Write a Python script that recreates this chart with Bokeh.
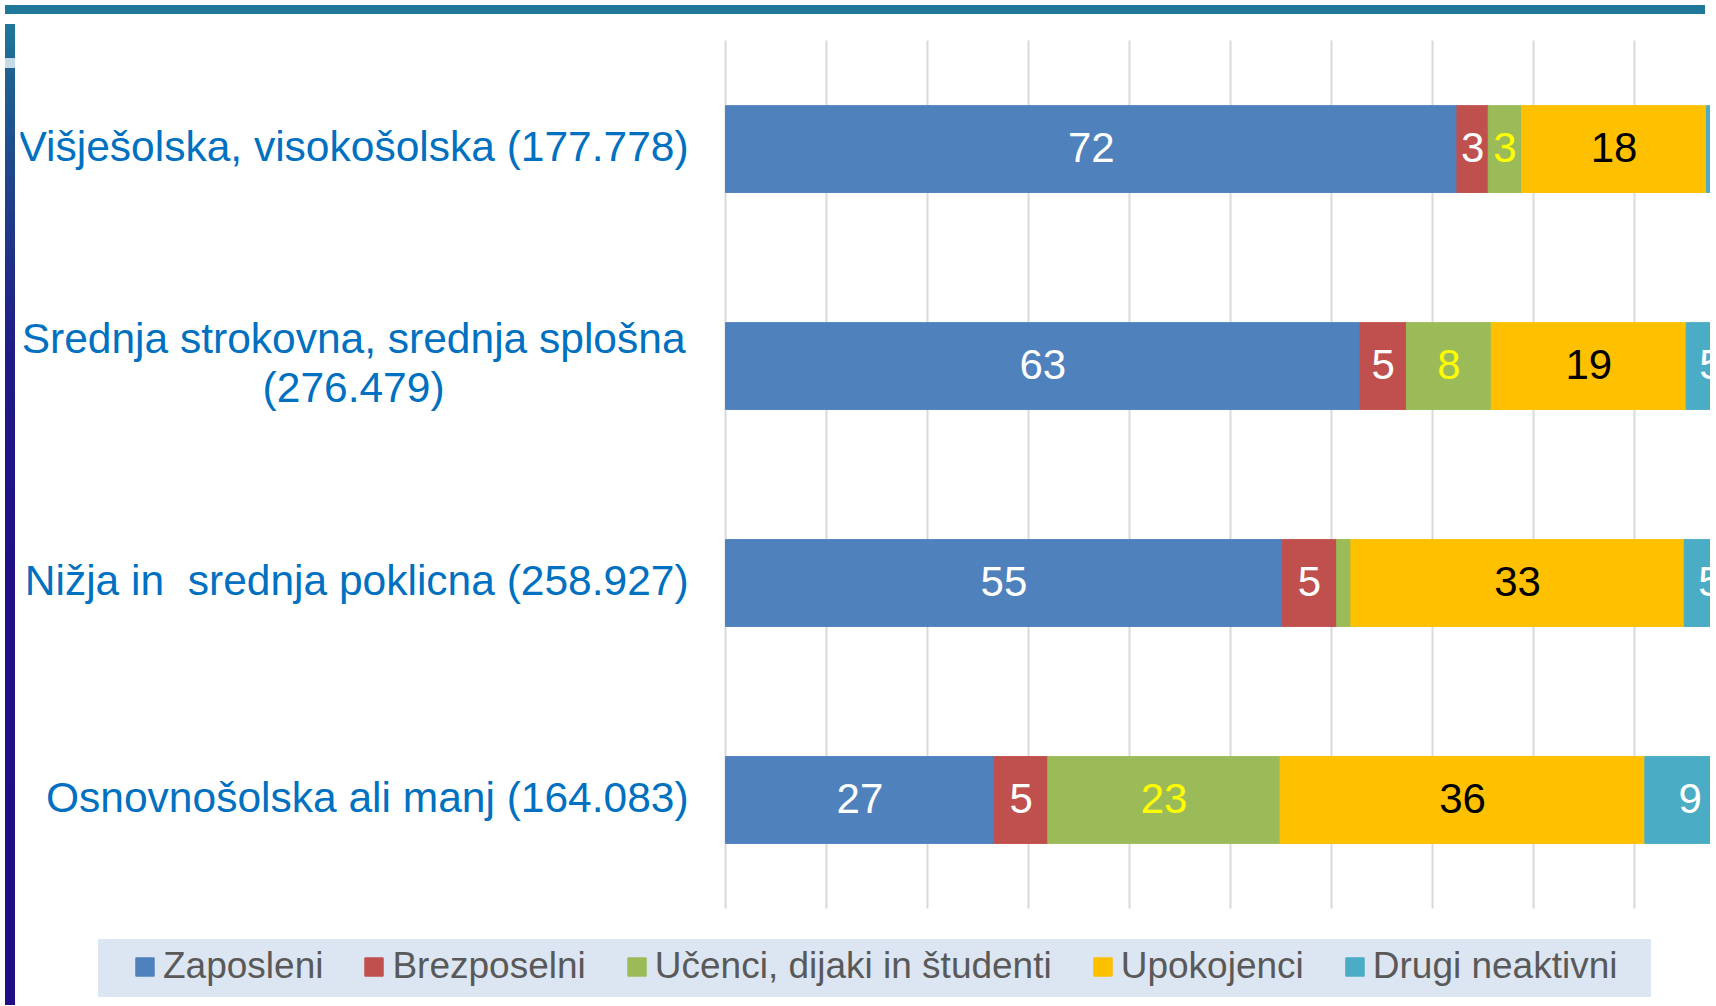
import numpy as np
from bokeh.plotting import figure
from bokeh.models import (ColumnDataSource, Range1d, FixedTicker, Grid,
                          Legend, LegendItem, Div)
from bokeh.layouts import column, row
from bokeh.core.properties import value
from bokeh.embed import file_html
from bokeh.resources import INLINE

# ---------------- data ----------------
categories = [
    "Višješolska, visokošolska (177.778)",
    "Srednja strokovna, srednja splošna\n(276.479)",
    "Nižja in \u00a0srednja poklicna (258.927)",
    "Osnovnošolska ali manj (164.083)",
]
series = ["Zaposleni", "Brezposelni", "Učenci, dijaki in študenti", "Upokojenci", "Drugi neaktivni"]
zaposleni = [72.4, 62.8, 55.1, 26.6]
brezposelni = [3.1, 4.6, 5.4, 5.3]
ucenci = [3.3, 8.4, 1.4, 23.0]
upokojenci = [18.3, 19.3, 33.0, 36.1]
drugi = [2.9, 4.9, 5.1, 9.0]
grid_ticks = list(range(0, 100, 10))

# ---------------- styles ----------------
colors = ["#4F81BD", "#C0504D", "#9BBB59", "#FFC000", "#4BACC6"]
label_colors = ["white", "white", "#FFFF00", "black", "white"]
FONT = "Liberation Sans"

n = len(categories)
ypos = list(range(n - 1, -1, -1))          # first category at the top
keys = ["zap", "brez", "uc", "upo", "drugi"]
values = [zaposleni, brezposelni, ucenci, upokojenci, drugi]
src = ColumnDataSource(dict(y=ypos, cat=categories, **{k: v for k, v in zip(keys, values)}))

p = figure(width=1690, height=981,
           y_range=Range1d(-0.5 - 0.424, n - 0.5 + 0.097),
           x_range=Range1d(-69.8, 97.5),
           x_axis_location=None, y_axis_location=None,
           output_backend="svg", toolbar_location=None,
           min_border_left=0, min_border_right=0, min_border_top=0, min_border_bottom=0)
p.outline_line_color = None
p.background_fill_alpha = 0
p.border_fill_alpha = 0
# legend box drawn as the plot element's background
p.styles = {"background": "linear-gradient(#DCE6F2, #DCE6F2) 78px 920px / 1553px 58px no-repeat, #FFFFFF"}

# remove default grids, add vertical gridlines spanning the category band only
p.center = [r for r in p.center if not isinstance(r, Grid)]
p.add_layout(Grid(dimension=0, ticker=FixedTicker(ticks=grid_ticks),
                  cross_bounds=(-0.5, n - 0.5),
                  grid_line_color="#D9D9D9", grid_line_width=2))

renderers = p.hbar_stack(keys, y="y", height=0.4, color=colors, source=src)

# data labels
arr = np.array(values)
right = np.cumsum(arr, axis=0)
left = right - arr
center = (left + right) / 2
lx, ly, lt, lc = [], [], [], []
for i in range(len(keys)):
    for j in range(n):
        v = arr[i, j]
        if v >= 2:
            lx.append(center[i, j]); ly.append(ypos[j]); lt.append(str(int(round(v)))); lc.append(label_colors[i])
p.text(x="x", y="y", text="t", text_color="c",
       source=ColumnDataSource(dict(x=lx, y=ly, t=lt, c=lc)),
       text_align="center", text_baseline="middle", y_offset=-2,
       text_font=value(FONT), text_font_size=value("42px"))

# category labels
single = [(c, y) for c, y in zip(categories, ypos) if "\n" not in c]
multi = [(c, y) for c, y in zip(categories, ypos) if "\n" in c]
p.text(x=[0] * len(single), y=[y for _, y in single], text=[c for c, _ in single],
       x_offset=-37, y_offset=-3,
       text_align="right", text_baseline="middle", text_color="#0070C0",
       text_font=value(FONT), text_font_size=value("42.5px"))
p.text(x=[0] * len(multi), y=[y for _, y in multi], text=[c for c, _ in multi],
       x_offset=-372, y_offset=-3,
       text_align="center", text_baseline="middle", text_color="#0070C0",
       text_font=value(FONT), text_font_size=value("42.5px"), text_line_height=1.06)

legend = Legend(items=[LegendItem(label=s, renderers=[r]) for s, r in zip(series, renderers)],
                orientation="horizontal", location=(113, 13), padding=0, margin=0,
                spacing=39, label_standoff=7, glyph_width=23, glyph_height=23,
                label_text_font=FONT, label_text_font_size="37px", label_text_color="#595959",
                background_fill_alpha=0, border_line_alpha=0)
p.add_layout(legend)

top_bar = Div(text="", width=1700, height=9, styles={"background-color": "#1F7899"})
left_bar = Div(text="", width=10, height=981, styles={
    "background": "linear-gradient(to bottom, #1F7899 0px, #1F6A95 34px, #C6D9E6 34px, "
                  "#C6D9E6 44px, #1F6290 44px, #1F548F 100px, #203E8A 175px, #201A87 330px, "
                  "#200F86 560px, #1F0E85 100%)"})
layout = column(top_bar, row(left_bar, p))

open("out.html", "w").write(file_html(layout, INLINE))
